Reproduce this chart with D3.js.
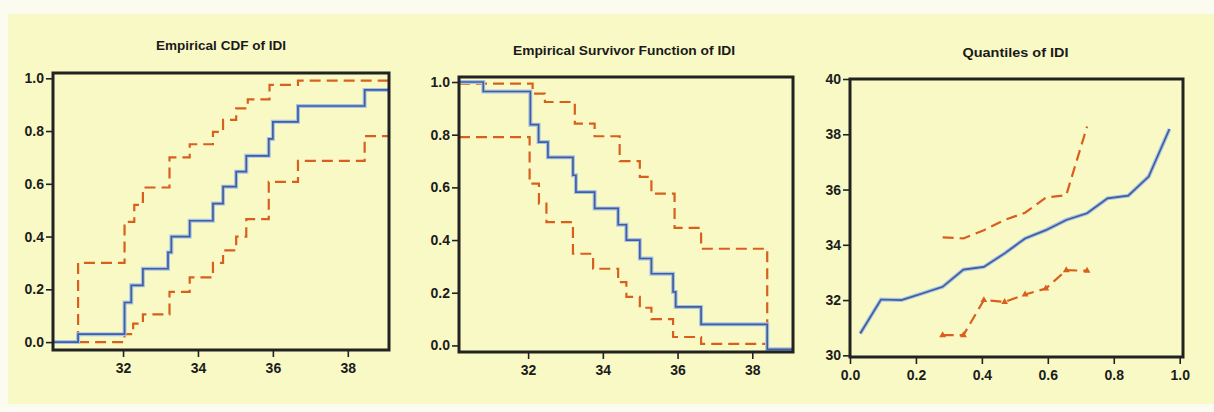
<!DOCTYPE html>
<html>
<head>
<meta charset="utf-8">
<script src="https://cdn.jsdelivr.net/npm/d3@7"></script>
<style>
  body { margin: 0; background: #fbfbef; }
  .tick text { font-family: "Liberation Sans", Arial, sans-serif; font-size: 14px; font-weight: bold; fill: #1c1c1c; }
  .tick line { stroke: #222; stroke-width: 1.6; }
  .title { font-family: "Liberation Sans Narrow", "Liberation Sans", Arial, sans-serif; font-size: 13px; font-weight: bold; fill: #1a1a1a; }
</style>
</head>
<body>
<div class="container"></div>
<script>
// empirical CDF (step positions and levels)
var cdfSteps = [30.8, 32.04, 32.22, 32.53, 33.2, 33.29, 33.78, 34.4, 34.67, 35.02, 35.29, 35.89, 36.0, 36.67, 38.45];
var cdfValues = [0.03, 0.15, 0.215, 0.278, 0.34, 0.40, 0.46, 0.525, 0.589, 0.646, 0.706, 0.77, 0.835, 0.895, 0.956];
var cdfUpperSteps = [30.8, 32.04, 32.3, 32.53, 33.24, 33.78, 34.4, 34.67, 35.02, 35.33, 35.91, 36.67];
var cdfUpperValues = [0.30, 0.456, 0.52, 0.586, 0.70, 0.75, 0.797, 0.842, 0.886, 0.92, 0.975, 0.991];
var cdfLowerSteps = [32.04, 32.27, 32.53, 33.24, 33.78, 34.4, 34.67, 35.02, 35.29, 35.89, 36.67, 38.45];
var cdfLowerValues = [0.03, 0.07, 0.105, 0.19, 0.245, 0.30, 0.348, 0.40, 0.466, 0.607, 0.687, 0.781];

// empirical survivor function
var survSteps = [30.8, 32.06, 32.28, 32.53, 33.2, 33.28, 33.78, 34.41, 34.63, 34.99, 35.3, 35.88, 35.95, 36.63, 38.4];
var survValues = [0.964, 0.838, 0.772, 0.714, 0.646, 0.582, 0.52, 0.458, 0.40, 0.33, 0.272, 0.203, 0.146, 0.08, -0.015];
var survUpperStart = 0.994;
var survUpperSteps = [32.12, 32.45, 33.25, 33.78, 34.45, 34.99, 35.3, 35.92, 36.63, 38.4];
var survUpperValues = [0.956, 0.924, 0.842, 0.794, 0.70, 0.64, 0.576, 0.446, 0.367, 0.0];
var survLowerStart = 0.791;
var survLowerSteps = [32.04, 32.29, 32.49, 33.2, 33.74, 34.41, 34.63, 34.99, 35.3, 35.88, 36.63];
var survLowerValues = [0.614, 0.538, 0.468, 0.348, 0.291, 0.24, 0.184, 0.143, 0.10, 0.032, 0.006];
var survLowerEnd = 38.35;

// quantiles
var probs = [0.031, 0.094, 0.156, 0.219, 0.281, 0.344, 0.406, 0.469, 0.531, 0.594, 0.656, 0.719, 0.781, 0.844, 0.906, 0.969];
var quantiles = [30.79, 32.02, 32.0, 32.24, 32.48, 33.1, 33.2, 33.69, 34.23, 34.53, 34.9, 35.14, 35.68, 35.78, 36.47, 38.19];
var bandProbs = [0.281, 0.344, 0.406, 0.469, 0.531, 0.594, 0.656, 0.719];
var quantUpper = [34.27, 34.23, 34.53, 34.9, 35.16, 35.71, 35.8, 38.28];
var quantLower = [30.73, 30.73, 32.0, 31.93, 32.2, 32.42, 33.08, 33.06];

var titles = ['Empirical CDF  of  IDI', 'Empirical Survivor  Function  of  IDI', 'Quantiles  of  IDI'];
var idiTicks = [32, 34, 36, 38];
var probTicks = [0, 0.2, 0.4, 0.6, 0.8, 1.0];
var quantTicks = [30, 32, 34, 36, 38, 40];

var blue = '#3f5f9c', halo = '#a9c2e4', orange = '#d8601c';

var svg = d3.select('.container')
  .append('svg')
  .attr('width', 1214)
  .attr('height', 412);

svg.append('rect')
  .attr('x', 8).attr('y', 14)
  .attr('width', 1206).attr('height', 390)
  .attr('fill', '#f9f9c6');

function stepPoints(x0, y0, xs, ys, x1) {
  var pts = [[x0, y0]];
  xs.forEach(function(x, i) { pts.push([x, ys[i]]); });
  if (x1 != null) pts.push([x1, ys[ys.length - 1]]);
  return pts;
}

function panel(box, xDomain, yDomain, xTicks, yTicks, xFmt, yFmt, title, titleY, titleLen) {
  var x = d3.scaleLinear().domain(xDomain).range([box.left, box.right]);
  var y = d3.scaleLinear().domain(yDomain).range([box.bottom, box.top]);
  var g = svg.append('g');

  g.append('text')
    .attr('class', 'title')
    .attr('x', (box.left + box.right) / 2 + box.titleDx)
    .attr('y', titleY)
    .attr('text-anchor', 'middle')
    .attr('textLength', titleLen)
    .attr('lengthAdjust', 'spacingAndGlyphs')
    .text(title);

  g.append('g')
    .attr('transform', 'translate(' + box.left + ',0)')
    .call(d3.axisLeft(y).tickValues(yTicks).tickSize(7).tickPadding(2).tickFormat(yFmt))
    .call(function(a) { a.select('.domain').remove(); });

  g.append('g')
    .attr('transform', 'translate(0,' + box.bottom + ')')
    .call(d3.axisBottom(x).tickValues(xTicks).tickSize(7).tickPadding(6).tickFormat(xFmt))
    .call(function(a) { a.select('.domain').remove(); });

  var plot = g.append('g');
  g.append('rect')
    .attr('x', box.left).attr('y', box.top)
    .attr('width', box.right - box.left).attr('height', box.bottom - box.top)
    .attr('fill', 'none')
    .attr('stroke', '#222')
    .attr('stroke-width', 3);

  return { x: x, y: y, g: plot };
}

function drawLine(p, pts, curve, kind) {
  var line = d3.line()
    .x(function(d) { return p.x(d[0]); })
    .y(function(d) { return p.y(d[1]); })
    .curve(curve);
  if (kind === 'blue') {
    p.g.append('path').attr('d', line(pts))
      .attr('fill', 'none').attr('stroke', halo).attr('stroke-width', 4);
    p.g.append('path').attr('d', line(pts))
      .attr('fill', 'none').attr('stroke', blue).attr('stroke-width', 1.7);
  } else {
    p.g.append('path').attr('d', line(pts))
      .attr('fill', 'none').attr('stroke', orange).attr('stroke-width', 2.2)
      .attr('stroke-dasharray', '11,6');
  }
}

var f1 = d3.format('.1f');

// panel 1: empirical CDF
var p1 = panel({ left: 53, right: 389, top: 73, bottom: 350, titleDx: 0 },
  [30.13, 39.1], [-0.03, 1.02], idiTicks, probTicks, d3.format('d'), f1, titles[0], 50, 130);
var x1 = p1.x.domain();
drawLine(p1, stepPoints(cdfUpperSteps[0], 0, cdfUpperSteps, cdfUpperValues, x1[1]), d3.curveStepAfter, 'orange');
drawLine(p1, stepPoints(30.8, 0, cdfLowerSteps, cdfLowerValues, x1[1]), d3.curveStepAfter, 'orange');
drawLine(p1, stepPoints(x1[0], 0, cdfSteps, cdfValues, x1[1]), d3.curveStepAfter, 'blue');

// panel 2: survivor function
var p2 = panel({ left: 459, right: 793, top: 77, bottom: 352, titleDx: -2 },
  [30.15, 39.09], [-0.025, 1.019], idiTicks, probTicks, d3.format('d'), f1, titles[1], 55, 222);
var x2 = p2.x.domain();
drawLine(p2, stepPoints(x2[0], survUpperStart, survUpperSteps, survUpperValues), d3.curveStepAfter, 'orange');
drawLine(p2, stepPoints(x2[0], survLowerStart, survLowerSteps, survLowerValues, survLowerEnd), d3.curveStepAfter, 'orange');
drawLine(p2, stepPoints(x2[0], 1.0, survSteps, survValues, x2[1]), d3.curveStepAfter, 'blue');

// panel 3: quantiles
var p3 = panel({ left: 850, right: 1183, top: 79, bottom: 357, titleDx: -1 },
  [0, 1.01], [29.94, 40], probTicks, quantTicks, f1, d3.format('d'), titles[2], 57, 106);
drawLine(p3, bandProbs.map(function(p, i) { return [p, quantUpper[i]]; }), d3.curveLinear, 'orange');
drawLine(p3, bandProbs.map(function(p, i) { return [p, quantLower[i]]; }), d3.curveLinear, 'orange');
p3.g.selectAll('.mark')
  .data(bandProbs.map(function(p, i) { return [p, quantLower[i]]; }))
  .enter()
  .append('path')
  .attr('class', 'mark')
  .attr('d', d3.symbol().type(d3.symbolTriangle).size(20))
  .attr('transform', function(d) { return 'translate(' + p3.x(d[0]) + ',' + p3.y(d[1]) + ')'; })
  .attr('fill', orange);
drawLine(p3, probs.map(function(p, i) { return [p, quantiles[i]]; }), d3.curveLinear, 'blue');
</script>
</body>
</html>
